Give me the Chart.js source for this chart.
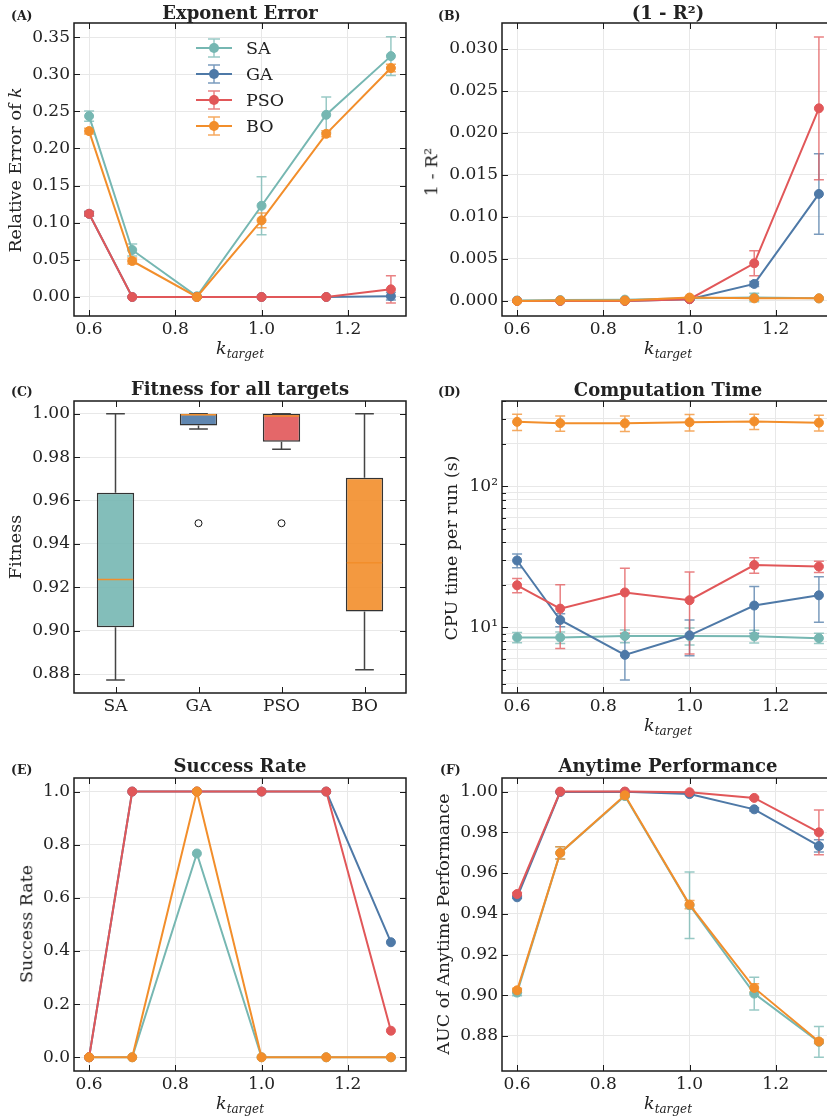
<!DOCTYPE html>
<html>
<head>
<meta charset="utf-8">
<script src="https://cdn.jsdelivr.net/npm/chart.js@4.4.0/dist/chart.umd.min.js"></script>
<style>
  body { margin: 0; width: 827px; height: 1118px; overflow: hidden; background: #fff; position: relative; font-family: 'DejaVu Serif', serif; color: #222; }
  canvas { position: absolute; }
  .txt { position: absolute; white-space: nowrap; line-height: 1; transform: translate(-50%, -50%); }
  .tag { position: absolute; white-space: nowrap; line-height: 1; transform: translateY(-50%); font-weight: bold; font-size: 12.5px; }
  .title { font-weight: bold; font-size: 18px; }
  .ylab { font-size: 17.5px; transform: translate(-50%, -50%) rotate(-90deg); }
  .xlab { font-size: 17.5px; font-style: italic; }
  .xlab span { font-size: 12px; position: relative; top: 4px; }
</style>
</head>
<body>
<canvas id="chartA"></canvas>
<canvas id="chartB"></canvas>
<canvas id="chartC"></canvas>
<canvas id="chartD"></canvas>
<canvas id="chartE"></canvas>
<canvas id="chartF"></canvas>

<div class="tag" style="left:11px;top:15.5px">(A)</div>
<div class="tag" style="left:438px;top:15.5px">(B)</div>
<div class="tag" style="left:11px;top:392px">(C)</div>
<div class="tag" style="left:438px;top:392px">(D)</div>
<div class="tag" style="left:11px;top:770px">(E)</div>
<div class="tag" style="left:440px;top:770px">(F)</div>

<div class="txt title" style="left:240px;top:12.5px">Exponent Error</div>
<div class="txt title" style="left:668px;top:13px">(1 - R²)</div>
<div class="txt title" style="left:240px;top:389px">Fitness for all targets</div>
<div class="txt title" style="left:668px;top:389.5px">Computation Time</div>
<div class="txt title" style="left:240px;top:766px">Success Rate</div>
<div class="txt title" style="left:668px;top:766px">Anytime Performance</div>

<div class="txt ylab" style="left:16px;top:169.5px">Relative Error of <i>k</i></div>
<div class="txt ylab" style="left:432px;top:172px">1 - R²</div>
<div class="txt ylab" style="left:16px;top:547px">Fitness</div>
<div class="txt ylab" style="left:452px;top:547.5px">CPU time per run (s)</div>
<div class="txt ylab" style="left:27px;top:924px">Success Rate</div>
<div class="txt ylab" style="left:444px;top:924px">AUC of Anytime Performance</div>

<div class="txt xlab" style="left:240px;top:349px">k<span>target</span></div>
<div class="txt xlab" style="left:668px;top:349px">k<span>target</span></div>
<div class="txt xlab" style="left:668px;top:726px">k<span>target</span></div>
<div class="txt xlab" style="left:240px;top:1104px">k<span>target</span></div>
<div class="txt xlab" style="left:668px;top:1104px">k<span>target</span></div>

<script>
const kTargets = [0.6, 0.7, 0.85, 1.0, 1.15, 1.3];
const methods = ['SA', 'GA', 'PSO', 'BO'];
const methodColors = ['#76b7b2', '#4e79a7', '#e15759', '#f28e2b'];
const xTicks = [0.6, 0.8, 1.0, 1.2];

// (A) relative error of k, mean and std
const expErrSA = [0.2436, 0.0633, 0.001, 0.1229, 0.2454, 0.3244];
const expErrGA = [0.112, 0.0, 0.0, 0.0, 0.0, 0.001];
const expErrPSO = [0.1121, 0.0, 0.0, 0.0, 0.0, 0.0103];
const expErrBO = [0.2234, 0.0485, 0.0, 0.1032, 0.2198, 0.3083];
const expErrStdSA = [0.007, 0.008, 0.001, 0.039, 0.024, 0.026];
const expErrStdGA = [0.003, 0, 0, 0, 0, 0.005];
const expErrStdPSO = [0.003, 0, 0, 0, 0, 0.0184];
const expErrStdBO = [0.004, 0.004, 0.001, 0.01, 0.004, 0.005];
const expErrTicks = [0, 0.05, 0.1, 0.15, 0.2, 0.25, 0.3, 0.35];

// (B) 1 - R^2
const r2SA = [0.00005, 0.0001, 0.00015, 0.0003, 0.0004, 0.0003];
const r2GA = [0.0, 0.0, 0.0, 0.0002, 0.00202, 0.01274];
const r2PSO = [0.0, 0.0, 0.0, 0.0002, 0.00448, 0.02294];
const r2BO = [0.0, 0.00005, 0.00005, 0.0004, 0.0003, 0.0003];
const r2StdSA = [0, 0, 0, 0.0001, 0.0005, 0.0001];
const r2StdGA = [0, 0, 0, 0.0001, 0.0003, 0.0048];
const r2StdPSO = [0, 0, 0, 0.0001, 0.0015, 0.0085];
const r2StdBO = [0, 0, 0, 0.0001, 0.0002, 0.0001];
const r2Ticks = [0, 0.005, 0.01, 0.015, 0.02, 0.025, 0.03];

// (C) fitness box plot, one box per method
const boxWhiskerLow = [0.8772, 0.993, 0.9836, 0.882];
const boxQ1 = [0.9016, 0.9945, 0.9871, 0.9088];
const boxMedian = [0.9236, 0.9995, 0.9989, 0.9313];
const boxQ3 = [0.9636, 1.0, 1.0, 0.9705];
const boxWhiskerHigh = [1.0, 1.0, 1.0, 1.0];
const boxOutliers = [[], [0.9495], [0.9495], []];
const fitnessTicks = [0.88, 0.9, 0.92, 0.94, 0.96, 0.98, 1.0];

// (D) CPU time per run (s)
const timeSA = [8.5, 8.5, 8.7, 8.7, 8.65, 8.4];
const timeGA = [29.8, 11.3, 6.4, 8.8, 14.3, 16.9];
const timePSO = [19.9, 13.6, 17.7, 15.6, 27.7, 27.0];
const timeBO = [286, 280, 279, 284, 288, 282];
const timeStdSA = [0.7, 0.8, 0.9, 1.2, 0.9, 0.7];
const timeStdGA = [3.3, 1.2, 2.15, 2.5, 5.2, 6.0];
const timeStdPSO = [2.3, 6.5, 8.6, 9.1, 3.5, 2.5];
const timeStdBO = [38, 35, 35, 38, 36, 36];
const timeTicks = [4, 5, 6, 7, 8, 9, 10, 20, 30, 40, 50, 60, 70, 80, 90, 100, 200, 300, 400];
const timeMajor = [10, 100];

// (E) success rate
const successSA = [0, 0, 0.767, 0, 0, 0];
const successGA = [0, 1, 1, 1, 1, 0.433];
const successPSO = [0, 1, 1, 1, 1, 0.1];
const successBO = [0, 0, 1, 0, 0, 0];
const successTicks = [0, 0.2, 0.4, 0.6, 0.8, 1.0];

// (F) AUC of anytime performance
const aucSA = [0.9013, 0.9699, 0.9978, 0.9442, 0.9008, 0.8771];
const aucGA = [0.9481, 0.9998, 0.9999, 0.9988, 0.9913, 0.9733];
const aucPSO = [0.9497, 1.0, 1.0, 0.9997, 0.9969, 0.980];
const aucBO = [0.9024, 0.9699, 0.9982, 0.9445, 0.9036, 0.8773];
const aucStdSA = [0.0015, 0.003, 0.0005, 0.0163, 0.008, 0.0075];
const aucStdGA = [0.0005, 0.0001, 0, 0.0003, 0.0008, 0.003];
const aucStdPSO = [0.0008, 0, 0, 0.0002, 0.0005, 0.011];
const aucStdBO = [0.001, 0.003, 0.0005, 0.002, 0.002, 0.001];
const aucTicks = [0.88, 0.9, 0.92, 0.94, 0.96, 0.98, 1.0];

const textColor = '#222';
const gridColor = '#e8e8e8';
const tickFont = { family: "'DejaVu Serif', serif", size: 17 };
const boxWidth = 0.45;

function withAlpha(hex, a) {
  const n = parseInt(hex.slice(1), 16);
  return `rgba(${n >> 16}, ${(n >> 8) & 255}, ${n & 255}, ${a})`;
}

// error bars, drawn through the scales
const errorBars = {
  id: 'errorBars',
  beforeDatasetsDraw(chart) {
    const { ctx, scales: { x, y } } = chart;
    ctx.save();
    ctx.lineWidth = 1.5;
    chart.data.datasets.forEach((ds) => {
      if (!ds.errors) return;
      ctx.strokeStyle = withAlpha(ds.borderColor, 0.75);
      ds.data.forEach((p, j) => {
        const e = ds.errors[j];
        if (!e) return;
        const px = x.getPixelForValue(p.x);
        const y0 = y.getPixelForValue(p.y - e);
        const y1 = y.getPixelForValue(p.y + e);
        ctx.beginPath();
        ctx.moveTo(px, y0); ctx.lineTo(px, y1);
        ctx.moveTo(px - 5, y0); ctx.lineTo(px + 5, y0);
        ctx.moveTo(px - 5, y1); ctx.lineTo(px + 5, y1);
        ctx.stroke();
      });
    });
    ctx.restore();
  },
};

// frame and inward ticks on all four sides
const frameTicks = {
  id: 'frameTicks',
  afterDatasetsDraw(chart) {
    const { ctx, chartArea: a, scales: { x, y } } = chart;
    ctx.save();
    ctx.strokeStyle = '#1a1a1a';
    ctx.lineWidth = 1;
    ctx.beginPath();
    x.ticks.forEach((t) => {
      const px = Math.round(x.getPixelForValue(t.value)) + 0.5;
      ctx.moveTo(px, a.bottom); ctx.lineTo(px, a.bottom - 6);
      ctx.moveTo(px, a.top); ctx.lineTo(px, a.top + 6);
    });
    y.ticks.forEach((t) => {
      const py = Math.round(y.getPixelForValue(t.value)) + 0.5;
      const len = (y.type === 'logarithmic' && !t.major) ? 4 : 6;
      ctx.moveTo(a.left, py); ctx.lineTo(a.left + len, py);
      ctx.moveTo(a.right, py); ctx.lineTo(a.right - len, py);
    });
    ctx.stroke();
    ctx.lineWidth = 1.5;
    ctx.strokeRect(a.left, a.top, a.right - a.left, a.bottom - a.top);
    ctx.restore();
  },
};

// legend inside panel A
const legendA = {
  id: 'legendA',
  afterDatasetsDraw(chart) {
    const { ctx, chartArea: a } = chart;
    const cx = a.left + 140;
    ctx.save();
    ctx.font = "17.5px 'DejaVu Serif', serif";
    ctx.textBaseline = 'middle';
    chart.data.datasets.forEach((ds, i) => {
      const cy = a.top + 25 + i * 26;
      ctx.strokeStyle = withAlpha(ds.borderColor, 0.75);
      ctx.lineWidth = 1.5;
      ctx.beginPath();
      ctx.moveTo(cx, cy - 9); ctx.lineTo(cx, cy + 9);
      ctx.moveTo(cx - 6, cy - 9); ctx.lineTo(cx + 6, cy - 9);
      ctx.moveTo(cx - 6, cy + 9); ctx.lineTo(cx + 6, cy + 9);
      ctx.stroke();
      ctx.strokeStyle = ds.borderColor;
      ctx.lineWidth = 2;
      ctx.beginPath(); ctx.moveTo(cx - 18, cy); ctx.lineTo(cx + 18, cy); ctx.stroke();
      ctx.fillStyle = ds.borderColor;
      ctx.beginPath(); ctx.arc(cx, cy, 5, 0, Math.PI * 2); ctx.fill();
      ctx.fillStyle = textColor;
      ctx.fillText(ds.label, cx + 32, cy + 1);
    });
    ctx.restore();
  },
};

// whiskers and medians for panel C
const boxParts = {
  id: 'boxParts',
  afterDatasetsDraw(chart) {
    const { ctx, scales: { x, y } } = chart;
    ctx.save();
    boxMedian.forEach((m, i) => {
      const cx = x.getPixelForValue(i + 1);
      const half = x.getPixelForValue(i + 1 + boxWidth / 2) - cx;
      ctx.strokeStyle = '#444';
      ctx.lineWidth = 1.5;
      ctx.beginPath();
      ctx.moveTo(cx, y.getPixelForValue(boxQ1[i])); ctx.lineTo(cx, y.getPixelForValue(boxWhiskerLow[i]));
      ctx.moveTo(cx, y.getPixelForValue(boxQ3[i])); ctx.lineTo(cx, y.getPixelForValue(boxWhiskerHigh[i]));
      ctx.moveTo(cx - half / 2, y.getPixelForValue(boxWhiskerLow[i])); ctx.lineTo(cx + half / 2, y.getPixelForValue(boxWhiskerLow[i]));
      ctx.moveTo(cx - half / 2, y.getPixelForValue(boxWhiskerHigh[i])); ctx.lineTo(cx + half / 2, y.getPixelForValue(boxWhiskerHigh[i]));
      ctx.stroke();
      ctx.strokeStyle = '#f28e2b';
      ctx.beginPath();
      ctx.moveTo(cx - half + 1, y.getPixelForValue(m)); ctx.lineTo(cx + half - 1, y.getPixelForValue(m));
      ctx.stroke();
    });
    ctx.restore();
  },
};

function lineSets(means, stds) {
  return methods.map((m, i) => ({
    type: 'line',
    label: m,
    data: kTargets.map((k, j) => ({ x: k, y: means[i][j] })),
    errors: stds ? stds[i] : null,
    borderColor: methodColors[i],
    backgroundColor: methodColors[i],
    borderWidth: 2,
    pointRadius: 4.5,
    pointBorderWidth: 1,
    pointHoverRadius: 4.5,
    order: methods.length - i,
  }));
}

function xScale() {
  return {
    type: 'linear', min: 0.565, max: 1.335, offset: false,
    afterBuildTicks: (s) => { s.ticks = xTicks.map((v) => ({ value: v })); },
    afterFit: (s) => { s.height = 30; },
    grid: { color: gridColor, drawTicks: false, offset: false },
    border: { display: false },
    ticks: { font: tickFont, color: textColor, padding: 3, autoSkip: false, maxRotation: 0, callback: (v) => v.toFixed(1) },
  };
}

function yScale(min, max, ticks, digits) {
  return {
    type: 'linear', min: min, max: max,
    afterBuildTicks: (s) => { s.ticks = ticks.map((v) => ({ value: v })); },
    afterFit: (s) => { s.width = 72; },
    grid: { color: gridColor, drawTicks: false },
    border: { display: false },
    ticks: { font: tickFont, color: textColor, padding: 4, autoSkip: false, callback: (v) => v.toFixed(digits) },
  };
}

function makePanel(id, area, type, datasets, scales, plugins) {
  const cv = document.getElementById(id);
  cv.width = area.w + 72 + 20;
  cv.height = area.h + 20 + 30;
  cv.style.left = (area.left - 72) + 'px';
  cv.style.top = (area.top - 20) + 'px';
  return new Chart(cv, {
    type: type,
    data: { datasets: datasets },
    options: {
      responsive: false,
      animation: false,
      events: [],
      layout: { padding: { top: 20, right: 20, left: 0, bottom: 0 } },
      plugins: { legend: { display: false }, tooltip: { enabled: false } },
      scales: scales,
    },
    plugins: plugins,
  });
}

makePanel('chartA', { left: 74, top: 23, w: 332, h: 293 }, 'line',
  lineSets([expErrSA, expErrGA, expErrPSO, expErrBO], [expErrStdSA, expErrStdGA, expErrStdPSO, expErrStdBO]),
  { x: xScale(), y: yScale(-0.0256, 0.369, expErrTicks, 2) },
  [errorBars, frameTicks, legendA]);

makePanel('chartB', { left: 502, top: 23, w: 332, h: 293 }, 'line',
  lineSets([r2SA, r2GA, r2PSO, r2BO], [r2StdSA, r2StdGA, r2StdPSO, r2StdBO]),
  { x: xScale(), y: yScale(-0.0018, 0.0331, r2Ticks, 3) },
  [errorBars, frameTicks]);

// panel C: floating bars for the boxes, scatter for outliers
const boxFill = methodColors.map((c) => withAlpha(c, 0.9));
const boxScaleX = {
  type: 'linear', min: 0.5, max: 4.5, offset: false,
  afterBuildTicks: (s) => { s.ticks = methods.map((m, i) => ({ value: i + 1 })); },
  afterFit: (s) => { s.height = 30; },
  grid: { display: false, drawTicks: false, offset: false },
  border: { display: false },
  ticks: { font: tickFont, color: textColor, padding: 3, autoSkip: false, maxRotation: 0, callback: (v) => methods[v - 1] },
};
makePanel('chartC', { left: 74, top: 401, w: 332, h: 292 }, 'bar',
  [
    {
      type: 'bar',
      data: methods.map((m, i) => ({ x: i + 1, y: [boxQ1[i], boxQ3[i]] })),
      backgroundColor: boxFill,
      borderColor: '#333',
      borderWidth: 1.5,
      borderSkipped: false,
      barPercentage: boxWidth,
      categoryPercentage: 1,
    },
    {
      type: 'scatter',
      data: boxOutliers.flatMap((vals, i) => vals.map((v) => ({ x: i + 1, y: v }))),
      backgroundColor: 'rgba(0,0,0,0)',
      borderColor: '#111',
      borderWidth: 1,
      pointRadius: 3.5,
    },
  ],
  { x: boxScaleX, y: yScale(0.87125, 1.00585, fitnessTicks, 2) },
  [boxParts, frameTicks]);

const logY = {
  type: 'logarithmic', min: 3.435, max: 401.8,
  afterBuildTicks: (s) => { s.ticks = timeTicks.map((v) => ({ value: v, major: timeMajor.includes(v) })); },
  afterFit: (s) => { s.width = 72; },
  grid: { color: gridColor, drawTicks: false },
  border: { display: false },
  ticks: { font: tickFont, color: textColor, padding: 4, autoSkip: false, callback: (v) => (v === 10 ? '10¹' : v === 100 ? '10²' : '') },
};
makePanel('chartD', { left: 502, top: 401, w: 332, h: 292 }, 'line',
  lineSets([timeSA, timeGA, timePSO, timeBO], [timeStdSA, timeStdGA, timeStdPSO, timeStdBO]),
  { x: xScale(), y: logY },
  [errorBars, frameTicks]);

makePanel('chartE', { left: 74, top: 778, w: 332, h: 293 }, 'line',
  lineSets([successSA, successGA, successPSO, successBO], null),
  { x: xScale(), y: yScale(-0.0516, 1.051, successTicks, 1) },
  [frameTicks]);

makePanel('chartF', { left: 502, top: 778, w: 332, h: 293 }, 'line',
  lineSets([aucSA, aucGA, aucPSO, aucBO], [aucStdSA, aucStdGA, aucStdPSO, aucStdBO]),
  { x: xScale(), y: yScale(0.8628, 1.00668, aucTicks, 2) },
  [errorBars, frameTicks]);
</script>
</body>
</html>
